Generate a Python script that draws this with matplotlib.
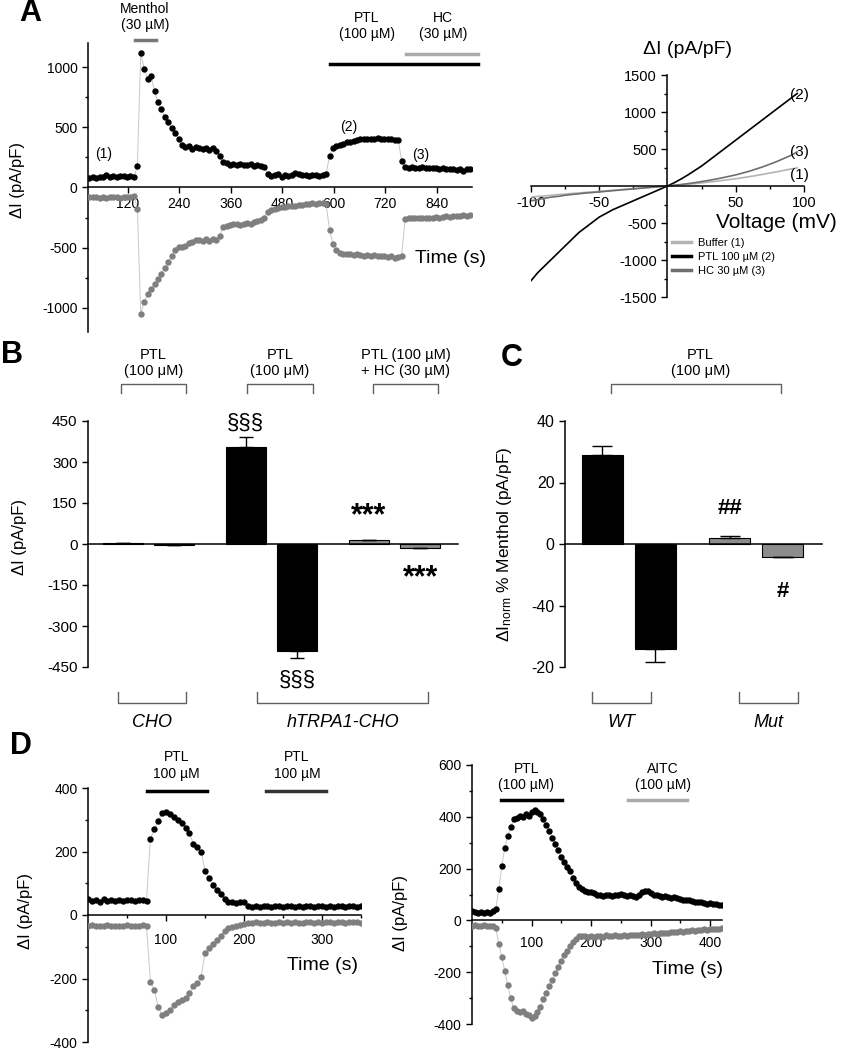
import matplotlib.pyplot as plt
import numpy as np
from matplotlib.transforms import blended_transform_factory

plt.rcParams['font.family'] = ['Liberation Sans', 'DejaVu Sans']
plt.rcParams['axes.linewidth'] = 1.1
plt.rcParams['axes.unicode_minus'] = False
plt.rcParams['mathtext.default'] = 'regular'

W, H = 845, 1050

# panel A, left: current at +/-100 mV, one point every 8 s from t = 30 s
A_T0, A_DT = 30, 8
A_OUT = [80, 85, 78, 90, 85, 100, 88, 92, 85, 95, 98, 88, 95, 85,
         180, 1120, 985, 900, 925, 800, 710, 650, 585, 540, 495, 450, 400, 350,
         335, 345, 320, 335, 325, 318, 330, 315, 332, 300, 265, 215, 200, 190,
         198, 185, 195, 188, 185, 192, 180, 188, 178, 172, 110, 95, 100, 108,
         90, 100, 95, 102, 118, 110, 100, 106, 95, 100, 104, 96, 100, 112,
         265, 330, 345, 356, 365, 374, 382, 390, 395, 400, 404, 406, 402, 405,
         410, 404, 400, 406, 400, 398, 392, 222, 172, 165, 170, 166, 160, 172,
         164, 160, 166, 158, 155, 162, 150, 156, 150, 146, 152, 140, 152, 150]
A_IN = [-75, -80, -78, -84, -80, -86, -80, -82, -78, -86, -80, -82, -78, -72,
        -175, -1050, -950, -885, -845, -800, -760, -715, -665, -620, -570, -515,
        -495, -490, -482, -462, -450, -440, -432, -442, -430, -446, -425, -432,
        -400, -330, -322, -312, -305, -300, -312, -300, -295, -302, -290, -280,
        -268, -250, -200, -190, -180, -172, -165, -160, -155, -152, -150, -145,
        -142, -140, -135, -132, -136, -130, -125, -140, -350, -470, -520, -540,
        -550, -555, -556, -560, -555, -560, -565, -560, -566, -560, -570, -565,
        -570, -575, -570, -582, -575, -570, -262, -256, -250, -256, -250, -252,
        -256, -250, -250, -245, -250, -244, -240, -246, -240, -236, -240, -230,
        -236, -225]
A_TICKS = [120, 240, 360, 480, 600, 720, 840]

# panel A, right: I-V ramps
IV_MV = list(range(-100, 100, 5))
IV_BUFFER = [-150, -140, -135, -125, -115, -110, -100, -95, -85, -80, -72, -65,
             -58, -50, -43, -36, -28, -21, -14, -7, 0, 8, 15, 24, 32, 42, 52, 62,
             74, 86, 98, 112, 126, 142, 158, 175, 192, 210, 228, 245]
IV_PTL = [-1280, -1170, -1080, -990, -900, -810, -720, -630, -560, -490, -420,
          -370, -320, -280, -240, -200, -160, -120, -80, -40, 0, 45, 95, 150,
          210, 270, 340, 410, 480, 550, 620, 690, 760, 830, 900, 970, 1040,
          1110, 1180, 1250]
IV_HC = [-200, -185, -165, -150, -140, -125, -115, -105, -95, -88, -80, -72,
         -63, -55, -47, -39, -31, -23, -15, -7, 0, 10, 20, 32, 45, 60, 75, 92,
         110, 130, 150, 175, 200, 230, 260, 295, 330, 370, 410, 460]

# panel B
B_POS = [0, 1, 2.4, 3.4, 4.8, 5.8]
B_VALUES = [3, -3, 355, -391, 13, -15]
B_ERR = [0, 0, 36, 26, 3, 0]
B_COLORS = ['#7a7a7a', '#7a7a7a', 'black', 'black', '#8c8c8c', '#8c8c8c']
B_TOP = ['PTL\n(100 μM)', 'PTL\n(100 μM)', 'PTL (100 µM)\n+ HC (30 µM)']
B_GROUPS = ['CHO', 'hTRPA1-CHO']

# panel C
C_POS = [0, 1, 2.4, 3.4]
C_VALUES = [29, -34, 2, -4.2]
C_ERR = [2.8, 4.5, 0.7, 0]
C_COLORS = ['black', 'black', '#8c8c8c', '#8c8c8c']
C_TICKS = [40, 20, 0, -20, -40]
C_TICKLABELS = ['40', '20', '0', '-40', '-20']
C_GROUPS = ['WT', 'Mut']

# panel D, left: one point every 5 s
D1_DT = 5
D1_OUT = [50, 45, 48, 42, 50, 45, 48, 44, 47, 45, 48, 46, 45, 47, 46, 45,
          240, 270, 295, 320, 325, 318, 310, 300, 290, 275, 258, 225, 215, 200,
          140, 115, 95, 80, 65, 50, 40, 42, 38, 40, 42,
          28, 26, 27, 26, 28, 27, 26, 27, 28, 26, 27, 28, 26, 27, 26, 28, 27,
          26, 27, 28, 26, 27, 26, 28, 27, 26, 28, 27, 26, 27]
D1_IN = [-35, -33, -36, -34, -35, -33, -36, -35, -34, -36, -33, -35, -34, -36,
         -32, -35, -210, -235, -290, -315, -310, -300, -285, -275, -268, -262,
         -245, -225, -215, -195, -120, -105, -92, -80, -65, -50, -42, -38, -34,
         -32, -28, -25,
         -24, -23, -25, -24, -23, -24, -25, -23, -24, -22, -24, -23, -25, -24,
         -23, -22, -24, -23, -24, -22, -23, -24, -22, -23, -24, -22, -23, -22, -24]

# panel D, right: one point every 5 s
D2_DT = 5
D2_OUT = [35, 32, 30, 33, 28, 32, 30, 35, 45, 120, 210, 280, 325, 360, 390, 395,
          405, 400, 410, 405, 420, 425, 418, 410, 390, 370, 345, 320, 295, 270,
          245, 225, 205, 190, 165, 145, 130, 120, 115, 110, 108, 105, 100, 98,
          95, 100, 98, 95, 98, 100, 102, 98, 95, 98, 95, 92, 100, 110, 115, 112,
          105, 100, 98, 95, 92, 95, 90, 88, 90, 85, 82, 80, 78, 80, 75, 72, 70,
          72, 68, 65, 66, 62, 64, 60, 58]
D2_IN = [-20, -18, -22, -20, -19, -21, -20, -22, -30, -90, -140, -195, -250,
         -300, -340, -350, -355, -350, -360, -365, -375, -370, -355, -335, -305,
         -280, -255, -230, -205, -180, -155, -135, -118, -100, -85, -72, -62,
         -60, -62, -64, -60, -65, -62, -60, -63, -58, -62, -60, -57, -60, -62,
         -58, -60, -56, -58, -55, -57, -54, -56, -52, -54, -50, -52, -48, -50,
         -47, -48, -45, -46, -44, -42, -44, -40, -42, -38, -40, -36, -38, -34,
         -36, -33, -35, -32, -34, -30]

fig = plt.figure(figsize=(W / 100, H / 100), dpi=100)


def place(left, top, right, bottom):
    return fig.add_axes([left / W, 1 - bottom / H, (right - left) / W, (bottom - top) / H])


def trace(ax, t, v, color):
    ax.plot(t, v, '-', color='#c8c8c8', lw=0.7, zorder=2)
    ax.plot(t, v, 'o', ms=4.6, color=color, mec='none', zorder=3)


def time_axes(ax):
    ax.spines['top'].set_visible(False)
    ax.spines['right'].set_visible(False)
    ax.spines['bottom'].set_position(('data', 0))
    ax.tick_params(labelsize=10, length=4, width=1)
    ax.tick_params(which='minor', length=2.5, width=1)


def bracket(ax, x0, x1, y_end, y_line, color='#606060'):
    tr = blended_transform_factory(ax.transData, ax.transAxes)
    ax.plot([x0, x0, x1, x1], [y_end, y_line, y_line, y_end], color=color,
            lw=1, transform=tr, clip_on=False)


# ---------- A left
ax = place(88, 43, 472, 332)
t = A_T0 + A_DT * np.arange(len(A_OUT))
trace(ax, t, A_OUT, 'black')
t = A_T0 + A_DT * np.arange(len(A_IN))
trace(ax, t, A_IN, '#7f7f7f')
time_axes(ax)
ax.set_xlim(27, 922)
ax.set_ylim(-1200, 1200)
ax.set_xticks(A_TICKS)
ax.set_yticks([-1000, -500, 0, 500, 1000])
ax.set_yticks([-750, -250, 250, 750], minor=True)
ax.tick_params(axis='x', pad=3)
ax.set_ylabel('ΔI (pA/pF)', fontsize=12)
ax.yaxis.set_label_coords(-0.165, 0.526)
ax.text(0.945, 0.256, 'Time (s)', transform=ax.transAxes, fontsize=14,
        ha='center', va='center')
ax.plot([136, 185], [1225, 1225], color='#777777', lw=2.5, clip_on=False)
ax.text(160, 1290, 'Menthol\n(30 µM)', ha='center', va='bottom', fontsize=10)
ax.plot([592, 935], [1025, 1025], color='black', lw=2.5, clip_on=False)
ax.plot([769, 935], [1108, 1108], color='#aaaaaa', lw=2.5, clip_on=False)
ax.text(677, 1215, 'PTL\n(100 µM)', ha='center', va='bottom', fontsize=10)
ax.text(854, 1215, 'HC\n(30 µM)', ha='center', va='bottom', fontsize=10)
ax.text(64, 278, '(1)', ha='center', va='center', fontsize=10)
ax.text(635, 502, '(2)', ha='center', va='center', fontsize=10)
ax.text(803, 270, '(3)', ha='center', va='center', fontsize=10)

# ---------- A right
ax = place(531, 75, 804, 297)
l1, = ax.plot(IV_MV, IV_BUFFER, color='#b4b4b4', lw=1.2, label='Buffer (1)')
l2, = ax.plot(IV_MV, IV_PTL, color='black', lw=1.2, label='PTL 100 µM (2)')
l3, = ax.plot(IV_MV, IV_HC, color='#6e6e6e', lw=1.2, label='HC 30 µM (3)')
ax.spines['top'].set_visible(False)
ax.spines['right'].set_visible(False)
ax.spines['left'].set_position(('data', 0))
ax.spines['bottom'].set_position(('data', 0))
ax.set_xlim(-100, 100)
ax.set_ylim(-1500, 1500)
ax.set_xticks([-100, -50, 50, 100])
ax.set_xticks([-75, -25, 25, 75], minor=True)
ax.set_yticks([-1500, -1000, -500, 500, 1000, 1500])
ax.set_yticks([-1250, -750, -250, 250, 750, 1250], minor=True)
ax.tick_params(labelsize=10.5, length=4, width=1)
ax.tick_params(which='minor', length=2.5, width=1)
ax.text(0.575, 1.113, 'ΔI (pA/pF)', transform=ax.transAxes, fontsize=14,
        ha='center', va='center')
ax.text(0.90, 0.335, 'Voltage (mV)', transform=ax.transAxes, fontsize=15,
        ha='center', va='center')
ax.text(97, 1230, '(2)', ha='center', va='center', fontsize=11)
ax.text(97, 460, '(3)', ha='center', va='center', fontsize=11)
ax.text(97, 150, '(1)', ha='center', va='center', fontsize=11)
leg = fig.legend(handles=[l1, l2, l3], loc='upper left',
                 bbox_to_anchor=(672 / W, 1 - 238 / H), frameon=False,
                 fontsize=8, handlelength=1.7, handletextpad=0.6,
                 labelspacing=0.35, borderpad=0, borderaxespad=0)
for line in leg.get_lines():
    line.set_linewidth(2.5)

# ---------- B
ax = place(88, 421, 458, 667)
lo = [e if v < 0 else 0 for v, e in zip(B_VALUES, B_ERR)]
hi = [e if v > 0 else 0 for v, e in zip(B_VALUES, B_ERR)]
ax.bar(B_POS, B_VALUES, width=0.78, color=B_COLORS, edgecolor='black', lw=0.8)
ax.errorbar(B_POS, B_VALUES, yerr=[lo, hi], fmt='none', ecolor='black',
            elinewidth=1, capsize=5)
ax.spines['top'].set_visible(False)
ax.spines['right'].set_visible(False)
ax.spines['bottom'].set_position(('data', 0))
ax.set_xlim(-0.68, 6.54)
ax.set_ylim(-450, 450)
ax.set_xticks([])
ax.set_yticks([-450, -300, -150, 0, 150, 300, 450])
ax.tick_params(labelsize=11, length=4, width=1)
ax.set_ylabel('ΔI (pA/pF)', fontsize=12)
ax.yaxis.set_label_coords(-0.165, 0.53)
ax.text(B_POS[2], 443, '§§§', ha='center', va='center', fontsize=16)
ax.text(B_POS[3], -498, '§§§', ha='center', va='center', fontsize=16)
ax.text(B_POS[4], 100, '***', ha='center', va='center', fontsize=22, fontweight='bold')
ax.text(B_POS[5], -125, '***', ha='center', va='center', fontsize=22, fontweight='bold')
for (x0, x1), label in zip([(-0.04, 1.23), (2.42, 3.71), (4.88, 6.15)], B_TOP):
    bracket(ax, x0, x1, 1.114, 1.150)
    ax.text((x0 + x1) / 2, 1.175, label, transform=blended_transform_factory(ax.transData, ax.transAxes),
            ha='center', va='bottom', fontsize=10.5, linespacing=1.15)
for (x0, x1), label in zip([(-0.10, 1.23), (2.62, 5.96)], B_GROUPS):
    bracket(ax, x0, x1, -0.102, -0.146)
    ax.text((x0 + x1) / 2, -0.224, label, transform=blended_transform_factory(ax.transData, ax.transAxes),
            ha='center', va='center', fontsize=13, style='italic')

# ---------- C
ax = place(565, 421, 822, 667)
lo = [e if v < 0 else 0 for v, e in zip(C_VALUES, C_ERR)]
hi = [e if v > 0 else 0 for v, e in zip(C_VALUES, C_ERR)]
ax.bar(C_POS, C_VALUES, width=0.77, color=C_COLORS, edgecolor='black', lw=0.8)
ax.errorbar(C_POS, C_VALUES, yerr=[lo, hi], fmt='none', ecolor='black',
            elinewidth=1, capsize=7)
ax.spines['top'].set_visible(False)
ax.spines['right'].set_visible(False)
ax.spines['bottom'].set_position(('data', 0))
ax.set_xlim(-0.70, 4.14)
ax.set_ylim(-40, 40)
ax.set_xticks([])
ax.set_yticks(C_TICKS)
ax.set_yticklabels(C_TICKLABELS)
ax.tick_params(labelsize=11.5, length=4, width=1)
ax.set_ylabel('ΔI$_{norm}$ % Menthol (pA/pF)', fontsize=12.5)
ax.yaxis.set_label_coords(-0.20, 0.50)
ax.text(C_POS[2], 11.6, '##', ha='center', va='center', fontsize=16, fontweight='bold')
ax.text(C_POS[3], -15.5, '#', ha='center', va='center', fontsize=16, fontweight='bold')
bracket(ax, 0.17, 3.36, 1.114, 1.150)
ax.text(1.85, 1.175, 'PTL\n(100 μM)', transform=blended_transform_factory(ax.transData, ax.transAxes),
        ha='center', va='bottom', fontsize=10.5, linespacing=1.15)
for (x0, x1), label in zip([(-0.19, 0.92), (2.58, 3.68)], C_GROUPS):
    bracket(ax, x0, x1, -0.102, -0.146)
    ax.text((x0 + x1) / 2, -0.224, label, transform=blended_transform_factory(ax.transData, ax.transAxes),
            ha='center', va='center', fontsize=13, style='italic')

# ---------- D left
ax = place(88, 788, 361, 1042)
trace(ax, D1_DT * np.arange(len(D1_OUT)), D1_OUT, 'black')
trace(ax, D1_DT * np.arange(len(D1_IN)), D1_IN, '#7f7f7f')
time_axes(ax)
ax.set_xlim(0, 350)
ax.set_ylim(-400, 400)
ax.set_xticks([100, 200, 300])
ax.set_xticks([50, 150, 250, 350], minor=True)
ax.set_yticks([-400, -200, 0, 200, 400])
ax.set_yticks([-300, -100, 100, 300], minor=True)
ax.tick_params(axis='x', pad=9)
ax.set_ylabel('ΔI (pA/pF)', fontsize=12)
ax.yaxis.set_label_coords(-0.20, 0.516)
ax.text(0.86, 0.30, 'Time (s)', transform=ax.transAxes, fontsize=14,
        ha='center', va='center')
ax.plot([75, 153], [392, 392], color='black', lw=2.5, clip_on=False)
ax.plot([228, 305], [392, 392], color='#333333', lw=2.5, clip_on=False)
ax.text(113, 423, 'PTL\n100 µM', ha='center', va='bottom', fontsize=10)
ax.text(268, 423, 'PTL\n100 µM', ha='center', va='bottom', fontsize=10)

# ---------- D right
ax = place(472, 765, 722, 1024)
trace(ax, D2_DT * np.arange(len(D2_OUT)), D2_OUT, 'black')
trace(ax, D2_DT * np.arange(len(D2_IN)), D2_IN, '#7f7f7f')
time_axes(ax)
ax.set_xlim(0, 420)
ax.set_ylim(-400, 600)
ax.set_xticks([100, 200, 300, 400])
ax.set_xticks([50, 150, 250, 350], minor=True)
ax.set_yticks([-400, -200, 0, 200, 400, 600])
ax.set_yticks([-300, -100, 100, 300, 500], minor=True)
ax.tick_params(axis='x', pad=7)
ax.set_ylabel('ΔI (pA/pF)', fontsize=12)
ax.yaxis.set_label_coords(-0.256, 0.43)
ax.text(0.86, 0.21, 'Time (s)', transform=ax.transAxes, fontsize=14,
        ha='center', va='center')
ax.plot([49, 151], [464, 464], color='black', lw=2.5, clip_on=False)
ax.plot([262, 361], [464, 464], color='#aaaaaa', lw=2.5, clip_on=False)
ax.text(91, 495, 'PTL\n(100 µM)', ha='center', va='bottom', fontsize=10)
ax.text(321, 495, 'AITC\n(100 µM)', ha='center', va='bottom', fontsize=10)

# panel letters
for letter, x, y in [('A', 30, 13), ('B', 12, 355), ('C', 512, 358), ('D', 21, 746)]:
    fig.text(x / W, 1 - y / H, letter, fontsize=22, fontweight='bold',
             ha='center', va='center')

fig.savefig('out.png', dpi=100)
